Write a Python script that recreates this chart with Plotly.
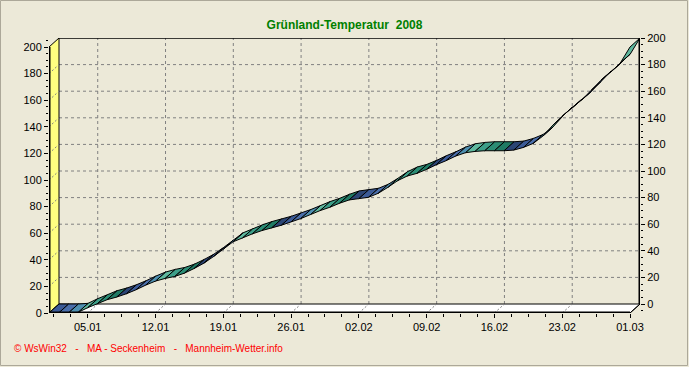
import pandas as pd
import plotly.graph_objects as go

# ---------------- data ----------------
start_date = "2008-01-01"
gt_sum = [0, 0, 0, 0.5, 4, 7, 10, 12, 14.5, 17.5,
          21, 24, 26, 27.5, 30, 33.5, 37.5, 42.5, 48, 53.5,
          56.5, 59.5, 62, 64, 66, 68.5, 71, 74, 77, 79.5,
          82.5, 85, 86, 87, 90, 94.5, 99.5, 103, 105, 108,
          111.5, 114.5, 118, 120.5, 121.5, 122, 122, 122, 122.5, 124.5,
          127.5, 133, 141, 148, 154, 160, 167.5, 175, 181, 188,
          200]
tick_labels = ["05.01", "12.01", "19.01", "26.01", "02.02", "09.02", "16.02", "23.02", "01.03"]
y_ticks = [0, 20, 40, 60, 80, 100, 120, 140, 160, 180, 200]
title_text = "Grünland-Temperatur  2008"
footer_text = "© WsWin32   -   MA - Seckenheim   -   Mannheim-Wetter.info"
palette = ["#5FB89E", "#3C9E88", "#2B8C74", "#1F7A64", "#2B4575", "#3B5A96", "#4A6EAA", "#4E8FB0"]

# ---------------- geometry ----------------
dates = pd.date_range(start_date, periods=len(gt_sum), freq="D")
t0 = dates[0]
days = [(d - t0).days for d in dates]
tick_dates = [pd.Timestamp(year=2008, month=int(lab[3:]), day=int(lab[:2])) for lab in tick_labels]
tick_days = [(d - t0).days for d in tick_dates]

W, H = 689, 367
ML, MR, MT, MB = 49, 49, 38, 54
pw, ph = W - ML - MR, H - MT - MB
DEPTH_X_PX, DEPTH_Y_PX = 10, 9
n_days = days[-1]
off = DEPTH_X_PX * n_days / (pw - DEPTH_X_PX)          # depth in days
ymax = max(y_ticks)
dy = DEPTH_Y_PX * ymax / (ph - DEPTH_Y_PX)               # depth in value units
xr = [0, n_days + off]
yr = [0, ymax + dy]

BG = "#ECE9D8"
GRID = "#808080"

fig = go.Figure()


def add_line(xs, ys, color="black", width=1, dash=None):
    fig.add_trace(go.Scatter(x=xs, y=ys, mode="lines",
                             line=dict(color=color, width=width, dash=dash),
                             hoverinfo="skip", showlegend=False))


def add_poly(xs, ys, fill, lc="black", lw=1):
    fig.add_trace(go.Scatter(x=xs, y=ys, mode="lines", fill="toself",
                             fillcolor=fill, line=dict(color=lc, width=lw),
                             hoverinfo="skip", showlegend=False))


# back wall horizontal gridlines
gx, gy = [], []
for v in y_ticks[1:-1]:
    gx += [off, n_days + off, None]
    gy += [v + dy, v + dy, None]
add_line(gx, gy, GRID, 1, "3px,3px")

# left wall
add_poly([0, off, off, 0, 0], [0, dy, ymax + dy, ymax, 0], "#FFFF80", "black", 1)
lx, ly = [], []
for v in y_ticks[1:-1]:
    lx += [0, off, None]
    ly += [v, v + dy, None]
add_line(lx, ly, GRID, 1, "2px,2px")

# vertical gridlines on back wall
vx, vy = [], []
for d in tick_days[:-1]:
    vx += [d + off, d + off, None]
    vy += [dy, ymax + dy, None]
add_line(vx, vy, GRID, 1, "3px,3px")

# floor
add_poly([0, n_days, n_days + off, off, 0], [0, 0, dy, dy, 0], "white", "black", 1)
fx, fy = [], []
for d in tick_days[:-1]:
    fx += [d, d + off, None]
    fy += [0, dy, None]
add_line(fx, fy, GRID, 1, "2px,2px")

# ribbon (3D line)
groups = {c: ([], []) for c in palette}
for i in range(len(gt_sum) - 1):
    c = palette[(days[i] + 5) % len(palette)]
    xs, ys = groups[c]
    x1, x2 = days[i], days[i + 1]
    v1, v2 = gt_sum[i], gt_sum[i + 1]
    xs += [x1, x2, x2 + off, x1 + off, x1, None]
    ys += [v1, v2, v2 + dy, v1 + dy, v1, None]
for c, (xs, ys) in groups.items():
    add_poly(xs, ys, c, "black", 1)

# frame lines
add_line([off, n_days + off], [ymax + dy, ymax + dy], "black", 1.5)
add_line([n_days + off, n_days + off], [dy, ymax + dy], "black", 3)
add_line([0, 0], [0, ymax], "black", 3)
add_line([0, n_days], [0, 0], "black", 3)
add_line([n_days, n_days + off], [0, dy], "black", 1)

# right-axis dummy trace
fig.add_trace(go.Scatter(x=[None], y=[None], yaxis="y2", showlegend=False, hoverinfo="skip"))

axis_font = dict(family="Arial, Liberation Sans, sans-serif", size=11, color="black")
footer_y_px = 348
fig.update_layout(
    width=W, height=H,
    margin=dict(l=ML, r=MR, t=MT, b=MB),
    paper_bgcolor=BG, plot_bgcolor=BG,
    showlegend=False,
    title=dict(text=f"<b>{title_text}</b>", x=0.5, xanchor="center", y=1 - 25 / H, yanchor="middle",
               font=dict(family="Arial, Liberation Sans, sans-serif", size=12, color="#008000")),
    xaxis=dict(range=xr, showgrid=False, zeroline=False, showline=False,
               tickmode="array", tickvals=tick_days, ticktext=tick_labels,
               ticks="outside", ticklen=4, tickcolor="black", tickfont=axis_font,
               minor=dict(tickmode="linear", tick0=tick_days[0], dtick=1.75, ticks="outside",
                          ticklen=3, tickcolor="black", showgrid=False)),
    yaxis=dict(range=yr, showgrid=False, zeroline=False, showline=False,
               tickmode="array", tickvals=y_ticks, ticks="outside", ticklen=4,
               tickcolor="black", tickfont=axis_font,
               minor=dict(tickmode="linear", tick0=0, dtick=5, ticks="outside", ticklen=2,
                          tickcolor="black", showgrid=False)),
    yaxis2=dict(range=[-dy, ymax], overlaying="y", side="right", showgrid=False,
                zeroline=False, showline=False, tickmode="array", tickvals=y_ticks,
                ticks="outside", ticklen=4, tickcolor="black", tickfont=axis_font,
                minor=dict(tickmode="linear", tick0=0, dtick=5, ticks="outside", ticklen=2,
                           tickcolor="black", showgrid=False)),
    annotations=[dict(text=footer_text, xref="paper", yref="paper",
                      x=-(ML - 12) / pw, y=-(footer_y_px - (MT + ph)) / ph,
                      xanchor="left", yanchor="middle", showarrow=False,
                      font=dict(family="Arial, Liberation Sans, sans-serif", size=10, color="#FF0000"))],
    shapes=[dict(type="rect", xref="paper", yref="paper",
                 x0=-ML / pw + 0.5 / pw, x1=1 + (MR - 1.5) / pw,
                 y0=-(MB - 1.5) / ph, y1=1 + (MT - 0.5) / ph,
                 line=dict(color="#ACA899", width=1), layer="below")],
)
fig.write_html("out.html", config={"displayModeBar": False},
               post_script="document.body.style.margin='0';")
